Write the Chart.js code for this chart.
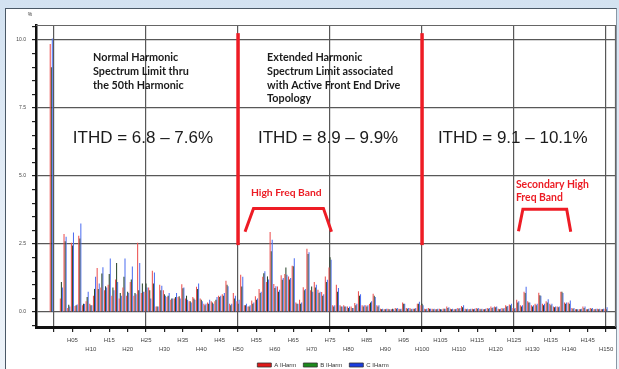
<!DOCTYPE html>
<html><head><meta charset="utf-8">
<script src="https://cdn.jsdelivr.net/npm/chart.js@4.4.1/dist/chart.umd.min.js"></script>
<style>
html,body{margin:0;padding:0;width:619px;height:369px;overflow:hidden;background:linear-gradient(180deg,#d3e2f1 0%,#e6eef7 60%,#edf3f9 100%);}
#panel{position:absolute;left:5px;top:8px;width:610px;height:370px;background:#fff;border-left:1px solid #4a5866;border-top:1px solid #4a5866;border-right:1px solid #8a98a6;}
#wrap{position:absolute;left:0;top:0;width:619px;height:378px;}
</style></head><body>
<div id="panel"></div>
<div id="wrap"><canvas id="c" width="619" height="378"></canvas></div>
<script>
// ---- categories ----
const harmonicOrders = Array.from({length: 150}, (_, i) => i + 1); // H01 .. H150
const thdSlot = -0.75;         // THD bar group sits just before H00
const seriesNames = ['A IHarm', 'B IHarm', 'C IHarm'];

// ---- THD values (%) ----
const thdA = 9.85, thdB = 9.0, thdC = 10.05;

// ---- harmonic values (%), H01..H150 (fundamental not shown) ----
const seriesA = [
 null,0.50,2.87,0.15,2.55,0.22,2.80,0.25,0.40,0.30,
 0.60,1.62,0.90,0.80,1.00,0.60,1.20,0.50,0.90,0.60,
 1.10,0.60,2.55,0.70,0.75,0.90,1.52,0.20,1.00,0.80,
 0.55,0.45,0.50,0.55,1.02,0.50,0.40,0.55,0.93,0.50,
 0.30,0.35,0.40,0.40,0.60,0.65,1.15,0.30,0.70,0.40,
 1.37,0.25,0.20,0.42,0.58,0.85,1.30,1.10,2.94,1.03,
 0.94,1.35,1.40,1.31,1.70,0.35,0.45,0.91,2.33,0.80,
 1.10,0.82,0.74,1.31,1.64,0.25,1.00,0.25,0.25,0.20,
 0.20,0.33,0.76,0.25,0.25,0.30,0.67,0.25,0.12,0.10,
 0.12,0.10,0.15,0.12,0.35,0.15,0.15,0.12,0.30,0.25,
 0.12,0.15,0.12,0.10,0.12,0.12,0.20,0.12,0.10,0.15,
 0.22,0.12,0.10,0.12,0.15,0.12,0.10,0.15,0.20,0.20,
 0.12,0.15,0.25,0.28,0.15,0.45,0.25,0.75,0.40,0.25,
 0.30,0.71,0.30,0.40,0.30,0.20,0.20,0.75,0.35,0.35,
 0.15,0.10,0.10,0.20,0.10,0.15,0.10,0.12,0.10,0.12
];
const seriesB = [
 null,1.10,2.60,0.27,2.45,0.25,2.70,0.30,0.55,0.25,
 0.85,0.85,1.42,0.95,1.40,0.90,1.80,0.70,1.30,0.75,
 1.20,0.70,0.80,1.05,1.05,0.80,1.05,0.20,0.80,0.65,
 0.60,0.50,0.55,0.58,0.87,0.60,0.40,0.50,0.85,0.45,
 0.25,0.30,0.35,0.45,0.55,0.60,1.00,0.25,0.50,0.30,
 0.94,0.25,0.20,0.30,0.45,0.70,1.43,1.31,2.23,0.88,
 0.75,1.19,1.64,1.20,1.68,0.30,0.30,0.80,2.13,0.94,
 0.90,0.70,0.60,1.10,2.01,0.20,0.75,0.20,0.20,0.15,
 0.15,0.25,0.60,0.20,0.20,0.35,0.60,0.20,0.10,0.10,
 0.10,0.12,0.12,0.10,0.30,0.12,0.10,0.12,0.30,0.30,
 0.10,0.12,0.10,0.10,0.10,0.12,0.15,0.10,0.10,0.12,
 0.18,0.10,0.10,0.10,0.12,0.10,0.10,0.12,0.15,0.18,
 0.10,0.12,0.20,0.25,0.12,0.35,0.20,0.70,0.35,0.20,
 0.25,0.62,0.25,0.35,0.25,0.18,0.18,0.75,0.30,0.30,
 0.12,0.10,0.10,0.15,0.10,0.12,0.10,0.10,0.10,0.10
];
const seriesC = [
 null,0.90,2.77,0.20,2.92,0.28,3.25,0.30,0.75,0.25,
 1.30,1.05,1.65,0.90,1.97,0.80,1.10,0.60,1.97,0.70,
 1.67,0.65,1.80,0.75,0.90,0.50,1.45,0.20,0.97,0.60,
 0.70,0.50,0.70,0.50,0.90,0.45,0.35,0.45,1.05,0.40,
 0.30,0.45,0.30,0.55,0.60,0.70,0.95,0.30,0.60,0.45,
 1.30,0.30,0.25,0.35,0.50,0.75,1.50,1.20,2.66,0.95,
 0.82,1.25,1.37,1.25,1.98,0.30,0.35,0.85,2.20,0.75,
 1.00,0.75,0.65,1.19,1.92,0.25,0.88,0.20,0.20,0.20,
 0.15,0.30,0.65,0.25,0.25,0.40,0.55,0.25,0.12,0.12,
 0.10,0.10,0.15,0.12,0.30,0.15,0.12,0.15,0.38,0.25,
 0.12,0.12,0.12,0.12,0.10,0.12,0.18,0.12,0.12,0.15,
 0.25,0.12,0.12,0.12,0.15,0.12,0.12,0.15,0.18,0.20,
 0.12,0.15,0.22,0.30,0.15,0.40,0.25,0.93,0.35,0.25,
 0.30,0.60,0.30,0.47,0.30,0.20,0.20,0.70,0.35,0.42,
 0.15,0.10,0.12,0.20,0.12,0.15,0.12,0.12,0.12,0.18
];

// ---- axis ticks ----
const yMajorStep = 2.5;
const xLabelStep = 5;
const xGridStep = 25;

// ---- annotations (data units: harmonic order, %) ----
const bandDividers = [50, 100];
const dividerSpan = [2.46, 10.25];
const bandBrackets = [
  [[51.9, 2.95], [54.2, 3.81], [73.2, 3.81], [75.4, 2.95]],
  [[126.2, 2.97], [127.4, 3.78], [139.3, 3.78], [140.4, 2.95]]
];
const notes = [
  {lines: ['Normal Harmonic', 'Spectrum Limit thru', 'the 50th Harmonic'], h: 10.6, v: 9.34, step: 0.5, font: 'bold 10.8px Lato', color: '#1b1b1b'},
  {lines: ['Extended Harmonic', 'Spectrum Limit associated', 'with Active Front End Drive', 'Topology'], h: 57.9, v: 9.34, step: 0.5, font: 'bold 10.8px Lato', color: '#1b1b1b'},
  {lines: ['ITHD = 6.8 \u2013 7.6%'], h: 5.1, v: 6.4, step: 0, font: '17px "Liberation Sans"', color: '#1b1b1b'},
  {lines: ['ITHD = 8.9 \u2013 9.9%'], h: 55.4, v: 6.4, step: 0, font: '17px "Liberation Sans"', color: '#1b1b1b'},
  {lines: ['ITHD = 9.1 \u2013 10.1%'], h: 104.3, v: 6.4, step: 0, font: '17px "Liberation Sans"', color: '#1b1b1b'},
  {lines: ['High Freq Band'], h: 53.5, v: 4.38, step: 0, font: 'bold 10.3px Lato', color: '#ec1c24'},
  {lines: ['Secondary High', 'Freq Band'], h: 125.5, v: 4.67, step: 0.48, font: 'bold 10.4px Lato', color: '#ec1c24'}
];

const barColors = ['#ec5050', '#2a462c', '#5070f0'];
const legendColors = ['#e01818', '#1c8a1c', '#1a3ce0'];

function pointsFor(thd, values) {
  const pts = [{x: thdSlot, y: thd}];
  harmonicOrders.forEach((h, i) => { if (values[i] !== null) pts.push({x: h, y: values[i]}); });
  return pts;
}
function hLabel(v) {
  if (v <= 0) return '';
  const s = 'H' + (v < 10 ? '0' + v : String(v));
  return (v % 10 === 5) ? [s, ''] : ['', s];
}

const overlay = {
  id: 'overlay',
  afterLayout(chart) {
    const lg = chart.legend;
    if (lg) { lg.left += 15; lg.right += 15; }
  },
  beforeDatasetsDraw(chart) {
    const {ctx, chartArea: a} = chart;
    ctx.save();
    ctx.strokeStyle = '#666'; ctx.lineWidth = 1.2;
    ctx.beginPath();
    ctx.moveTo(a.left, a.top + 0.5); ctx.lineTo(a.right, a.top + 0.5);
    ctx.moveTo(a.right - 0.5, a.top); ctx.lineTo(a.right - 0.5, a.bottom);
    ctx.stroke();
    ctx.fillStyle = '#333'; ctx.font = '5px "Liberation Sans"';
    ctx.textAlign = 'center'; ctx.textBaseline = 'middle';
    ctx.fillText('%', a.left - 6, a.top - 10);
    ctx.restore();
  },
  afterDatasetsDraw(chart) {
    const {ctx, scales: {x, y}} = chart;
    ctx.save();
    ctx.strokeStyle = '#ee1c25';
    ctx.lineWidth = 3.5;
    bandDividers.forEach(h => {
      ctx.beginPath();
      ctx.moveTo(x.getPixelForValue(h), y.getPixelForValue(dividerSpan[1]));
      ctx.lineTo(x.getPixelForValue(h), y.getPixelForValue(dividerSpan[0]));
      ctx.stroke();
    });
    ctx.lineWidth = 3; ctx.lineJoin = 'miter';
    bandBrackets.forEach(pts => {
      ctx.beginPath();
      pts.forEach((p, i) => {
        const px = x.getPixelForValue(p[0]), py = y.getPixelForValue(p[1]);
        if (i === 0) ctx.moveTo(px, py); else ctx.lineTo(px, py);
      });
      ctx.stroke();
    });
    ctx.textAlign = 'left'; ctx.textBaseline = 'middle';
    notes.forEach(n => {
      ctx.font = n.font; ctx.fillStyle = n.color;
      n.lines.forEach((t, i) => {
        ctx.fillText(t, x.getPixelForValue(n.h), y.getPixelForValue(n.v - i * n.step));
      });
    });
    ctx.restore();
  }
};

new Chart(document.getElementById('c'), {
  type: 'bar',
  data: {
    datasets: [
      {label: seriesNames[0], data: pointsFor(thdA, seriesA), backgroundColor: barColors[0]},
      {label: seriesNames[1], data: pointsFor(thdB, seriesB), backgroundColor: barColors[1]},
      {label: seriesNames[2], data: pointsFor(thdC, seriesC), backgroundColor: barColors[2]}
    ]
  },
  options: {
    responsive: false,
    animation: false,
    devicePixelRatio: 1,
    categoryPercentage: 0.85,
    barPercentage: 1.0,
    layout: {padding: {left: 0, right: 3, top: 25, bottom: 0}},
    plugins: {
      tooltip: {enabled: false},
      legend: {
        position: 'bottom',
        labels: {
          boxWidth: 14, boxHeight: 4, padding: 7,
          font: {size: 6, family: '"Liberation Sans"'}, color: '#333',
          generateLabels(chart) {
            return chart.data.datasets.map((ds, i) => ({
              text: ds.label, fillStyle: legendColors[i], strokeStyle: '#333', lineWidth: 0.8,
              hidden: false, datasetIndex: i, fontColor: '#333'
            }));
          }
        }
      }
    },
    scales: {
      x: {
        type: 'linear', min: -4.9, max: 152.7, offset: false,
        afterFit(s) { s.height = 28; },
        border: {display: true, color: '#111', width: 3},
        grid: {
          offset: false,
          color: c => (c.tick && c.tick.value % xGridStep === 0) ? '#585858' : 'rgba(0,0,0,0)',
          lineWidth: 1.2, tickColor: '#222', tickLength: 5, drawTicks: true
        },
        ticks: {
          stepSize: xLabelStep, includeBounds: false, autoSkip: false, maxRotation: 0, minRotation: 0,
          padding: 4, color: '#444', font: {size: 6, family: '"Liberation Sans"', lineHeight: 1.45},
          callback: v => hLabel(v)
        }
      },
      y: {
        min: -0.55, max: 10.55,
        afterFit(s) { s.width = 36; },
        border: {display: true, color: '#111', width: 2.5},
        grid: {
          color: c => (c.tick && Math.abs(c.tick.value % yMajorStep) < 1e-6) ? '#585858' : 'rgba(0,0,0,0)',
          lineWidth: 1.2, tickColor: '#222', tickLength: 4, drawTicks: true
        },
        ticks: {
          stepSize: 0.5, includeBounds: false, padding: 6, color: '#444',
          font: {size: 5, family: '"Liberation Sans"'},
          callback: v => (Math.abs(v % yMajorStep) < 1e-6 ? v.toFixed(1) : '')
        }
      }
    }
  },
  plugins: [overlay]
});
</script>
</body></html>
